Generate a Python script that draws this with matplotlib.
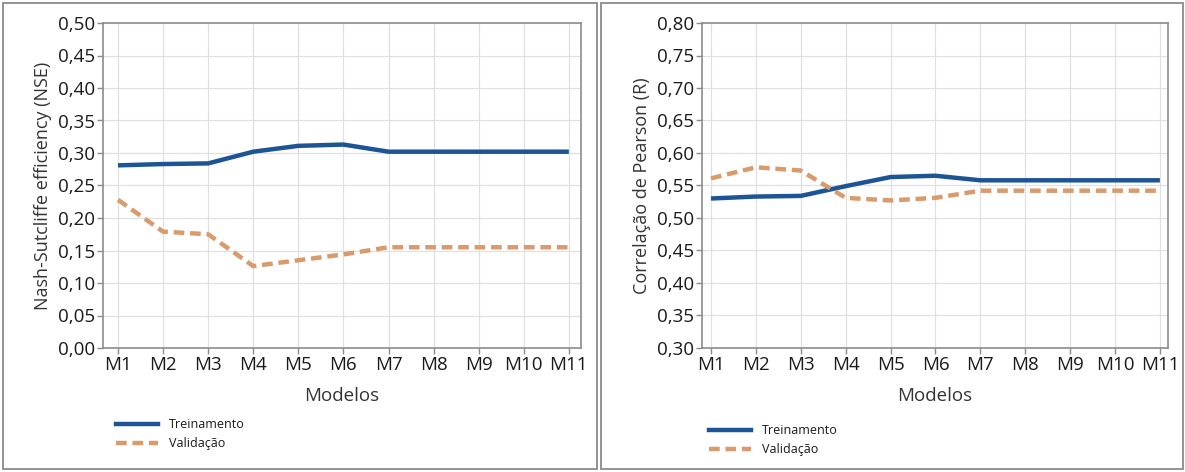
import numpy as np
import matplotlib.pyplot as plt
from matplotlib.ticker import FuncFormatter, MultipleLocator
from matplotlib.patches import Rectangle
from matplotlib.lines import Line2D

plt.rcParams['font.family'] = ['Open Sans', 'DejaVu Sans']

# Data
modelos = ['M1', 'M2', 'M3', 'M4', 'M5', 'M6', 'M7', 'M8', 'M9', 'M10', 'M11']
nse_trein = [0.281, 0.283, 0.284, 0.302, 0.311, 0.313, 0.302, 0.302, 0.302, 0.302, 0.302]
nse_valid = [0.228, 0.179, 0.175, 0.126, 0.135, 0.144, 0.155, 0.155, 0.155, 0.155, 0.155]
r_trein = [0.530, 0.533, 0.534, 0.549, 0.563, 0.565, 0.558, 0.558, 0.558, 0.558, 0.558]
r_valid = [0.561, 0.578, 0.573, 0.531, 0.527, 0.531, 0.542, 0.542, 0.542, 0.542, 0.542]

BLUE = '#1d5496'
ORANGE = '#d99a6c'
GRID = '#e0e0e0'
SPINE = '#8c8c8c'
TEXT = '#1a1a1a'

W, H = 1185, 472
fig = plt.figure(figsize=(W / 100, H / 100), dpi=100)

# panel frames
for x0, x1 in [(3, 597), (601, 1183)]:
    fig.patches.append(Rectangle((x0 / W, 3 / H), (x1 - x0) / W, (469 - 3) / H,
                                 transform=fig.transFigure, fill=False,
                                 edgecolor='#8a8a8a', linewidth=1.3))

comma = FuncFormatter(lambda v, p: f'{v:.2f}'.replace('.', ','))
x = np.arange(1, len(modelos) + 1)


def draw(rect, trein, valid, ylim, ylabel, xlim, leg_xy):
    ax = fig.add_axes(rect)
    ax.plot(x, trein, color=BLUE, lw=3.2, solid_capstyle='butt', zorder=3)
    ax.plot(x, valid, color=ORANGE, lw=3.2, dashes=(2.4, 1.3), zorder=3)
    ax.set_xlim(*xlim)
    ax.set_ylim(*ylim)
    ax.set_xticks(x)
    ax.set_xticklabels(modelos)
    ax.yaxis.set_major_locator(MultipleLocator(0.05))
    ax.yaxis.set_major_formatter(comma)
    ax.grid(True, color=GRID, lw=0.9)
    ax.set_axisbelow(True)
    for s in ax.spines.values():
        s.set_color(SPINE)
        s.set_linewidth(1.2)
    ax.tick_params(axis='both', labelsize=13.5, length=4, width=1,
                   color=SPINE, labelcolor=TEXT, pad=2)
    ax.set_ylabel(ylabel, fontsize=13, color='#333333', labelpad=4)
    ax.set_xlabel('Modelos', fontsize=13.5, color='#333333', labelpad=9)
    handles = [Line2D([], [], color=BLUE, lw=3.2),
               Line2D([], [], color=ORANGE, lw=3.2, dashes=(2.4, 1.3))]
    fig.legend(handles, ['Treinamento', 'Validação'], loc='upper left',
               bbox_to_anchor=(leg_xy[0] / W, 1 - leg_xy[1] / H),
               frameon=False, fontsize=9, handlelength=3.3,
               handletextpad=0.9, labelspacing=0.45, borderpad=0,
               labelcolor=TEXT)
    return ax


draw([103 / W, 1 - 348 / H, (581 - 103) / W, (348 - 23) / H],
     nse_trein, nse_valid, (0, 0.5), 'Nash-Sutcliffe efficiency (NSE)',
     (0.667, 11.27), (110, 412))
draw([702 / W, 1 - 348 / H, (1168 - 702) / W, (348 - 23) / H],
     r_trein, r_valid, (0.3, 0.8), 'Correlação de Pearson (R)',
     (0.8, 11.18), (703, 418))

fig.savefig('out.png', dpi=100)
